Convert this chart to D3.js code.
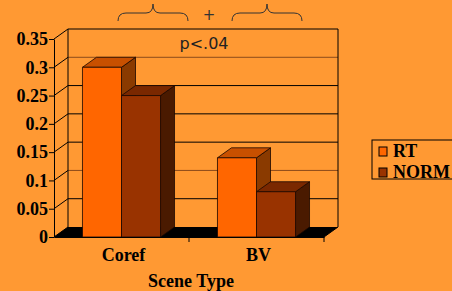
<!DOCTYPE html>
<html>
<head>
<meta charset="utf-8">
<script src="https://cdn.jsdelivr.net/npm/d3@7"></script>
<style>
  body { margin: 0; background: #ff9933; }
  svg { display: block; }
</style>
</head>
<body>
<svg id="chart" width="452" height="291"></svg>
<script>
// data
const categories = ["Coref", "BV"];
const series = ["RT", "NORM"];
const rtValues = [0.30, 0.14];
const normValues = [0.25, 0.08];
const yTicks = [0, 0.05, 0.1, 0.15, 0.2, 0.25, 0.3, 0.35];

const colors = {
  RT: { front: "#ff6600", top: "#c85000", side: "#8a3a00" },
  NORM: { front: "#993300", top: "#7a2800", side: "#4a1a00" }
};

// 3d depth offset of the back wall
const dx = 14, dy = -10;
const plotLeft = 54, plotRight = 324, plotBottom = 237, plotTop = 39;
const serif = "'Liberation Serif', 'Times New Roman', serif";

const svg = d3.select("#chart");
svg.append("rect").attr("width", 452).attr("height", 291).attr("fill", "#ff9933");

const y = d3.scaleLinear().domain([0, 0.35]).range([plotBottom, plotTop]);
const x0 = d3.scaleBand().domain(categories).range([plotLeft, plotRight]).padding(0);
const x1 = d3.scaleBand().domain(series).range([0, x0.bandwidth()]).paddingInner(0).paddingOuter(0.73);

// walls
const walls = svg.append("g");
walls.append("polygon")
  .attr("points", [[plotLeft, plotBottom], [plotRight, plotBottom], [plotRight + dx, plotBottom + dy], [plotLeft + dx, plotBottom + dy]].join(" "))
  .attr("fill", "#000");

const grid = walls.append("g").attr("stroke", "#000").attr("stroke-width", 1).attr("fill", "none");
grid.selectAll(".back")
  .data(yTicks.slice(1))
  .enter()
  .append("line")
  .attr("x1", plotLeft + dx).attr("x2", plotRight + dx)
  .attr("y1", (d) => y(d) + dy).attr("y2", (d) => y(d) + dy)
  .attr("stroke", (d) => (d === 0.3 || d === 0.1) ? "#8b4a1a" : "#000");
grid.selectAll(".side")
  .data(yTicks)
  .enter()
  .append("line")
  .attr("x1", plotLeft).attr("x2", plotLeft + dx)
  .attr("y1", (d) => y(d)).attr("y2", (d) => y(d) + dy);
grid.append("line").attr("x1", plotLeft + dx).attr("x2", plotLeft + dx).attr("y1", plotTop + dy).attr("y2", plotBottom + dy);
grid.append("line").attr("x1", plotRight + dx).attr("x2", plotRight + dx).attr("y1", plotTop + dy).attr("y2", plotBottom + dy);
grid.append("line").attr("x1", plotRight).attr("x2", plotRight + dx).attr("y1", plotBottom).attr("y2", plotBottom + dy);

// bars
const barData = [];
categories.forEach((c, i) => {
  barData.push({ cat: c, key: "RT", value: rtValues[i] });
  barData.push({ cat: c, key: "NORM", value: normValues[i] });
});

const bars = svg.append("g").attr("stroke", "#1a0800").attr("stroke-width", 0.8).attr("stroke-linejoin", "round");
barData.forEach((d) => {
  const bx = x0(d.cat) + x1(d.key);
  const w = x1.bandwidth();
  const by = y(d.value);
  const g = bars.append("g");
  g.append("polygon")
    .attr("points", [[bx + w, by], [bx + w + dx, by + dy], [bx + w + dx, plotBottom + dy], [bx + w, plotBottom]].join(" "))
    .attr("fill", colors[d.key].side);
  g.append("polygon")
    .attr("points", [[bx, by], [bx + dx, by + dy], [bx + w + dx, by + dy], [bx + w, by]].join(" "))
    .attr("fill", colors[d.key].top);
  g.append("rect")
    .attr("x", bx).attr("y", by)
    .attr("width", w).attr("height", plotBottom - by)
    .attr("fill", colors[d.key].front);
});

// axes
const yAxis = svg.append("g")
  .attr("transform", `translate(${plotLeft},0)`)
  .call(d3.axisLeft(y).tickValues(yTicks).tickFormat((d) => String(d)).tickSize(5).tickSizeOuter(0).tickPadding(1));
yAxis.selectAll("text")
  .style("font-family", serif)
  .style("font-weight", "bold")
  .style("font-size", "18px")
  .attr("fill", "#000");

const xAxis = svg.append("g")
  .attr("transform", `translate(0,${plotBottom})`)
  .call(d3.axisBottom(x0).tickSize(0).tickPadding(11).tickSizeOuter(0));
xAxis.selectAll("text")
  .attr("dx", 2)
  .style("font-family", serif)
  .style("font-weight", "bold")
  .style("font-size", "18px")
  .attr("fill", "#000");
xAxis.selectAll(".bound")
  .data(categories)
  .enter()
  .append("line")
  .attr("x1", (d) => x0(d) + x0.bandwidth())
  .attr("x2", (d) => x0(d) + x0.bandwidth())
  .attr("y1", 0).attr("y2", 5)
  .attr("stroke", "#000");

svg.append("text")
  .text("Scene Type")
  .attr("x", 191).attr("y", 287)
  .attr("text-anchor", "middle")
  .style("font-family", serif)
  .style("font-weight", "bold")
  .style("font-size", "18px");

// annotation
svg.append("text")
  .text("p<.04")
  .attr("x", 204).attr("y", 49)
  .attr("text-anchor", "middle")
  .attr("fill", "#222")
  .style("font-family", "'DejaVu Sans', Verdana, sans-serif")
  .style("font-size", "16px");

function brace(xa, xb) {
  const m = (xa + xb) / 2;
  return `M${xa},21 Q${xa},13 ${xa + 8},13 L${m - 7},13 Q${m},13 ${m},4 Q${m},13 ${m + 7},13 L${xb - 8},13 Q${xb},13 ${xb},21`;
}
const braces = svg.append("g").attr("fill", "none").attr("stroke", "#333").attr("stroke-width", 1);
braces.append("path").attr("d", brace(118, 188));
braces.append("path").attr("d", brace(232, 302));
svg.append("text")
  .text("+")
  .attr("x", 209).attr("y", 20)
  .attr("text-anchor", "middle")
  .attr("fill", "#333")
  .style("font-family", "'DejaVu Sans', sans-serif")
  .style("font-size", "15px");

// legend
const legend = svg.append("g").attr("transform", "translate(372,140)");
legend.append("rect")
  .attr("width", 90).attr("height", 39)
  .attr("fill", "none").attr("stroke", "#000");
series.forEach((s, i) => {
  legend.append("rect")
    .attr("x", 7).attr("y", 7 + i * 21)
    .attr("width", 8).attr("height", 9)
    .attr("fill", colors[s].front)
    .attr("stroke", "#000");
  legend.append("text")
    .text(s)
    .attr("x", 21).attr("y", 17 + i * 21)
    .style("font-family", serif)
    .style("font-weight", "bold")
    .style("font-size", "18px");
});
</script>
</body>
</html>
